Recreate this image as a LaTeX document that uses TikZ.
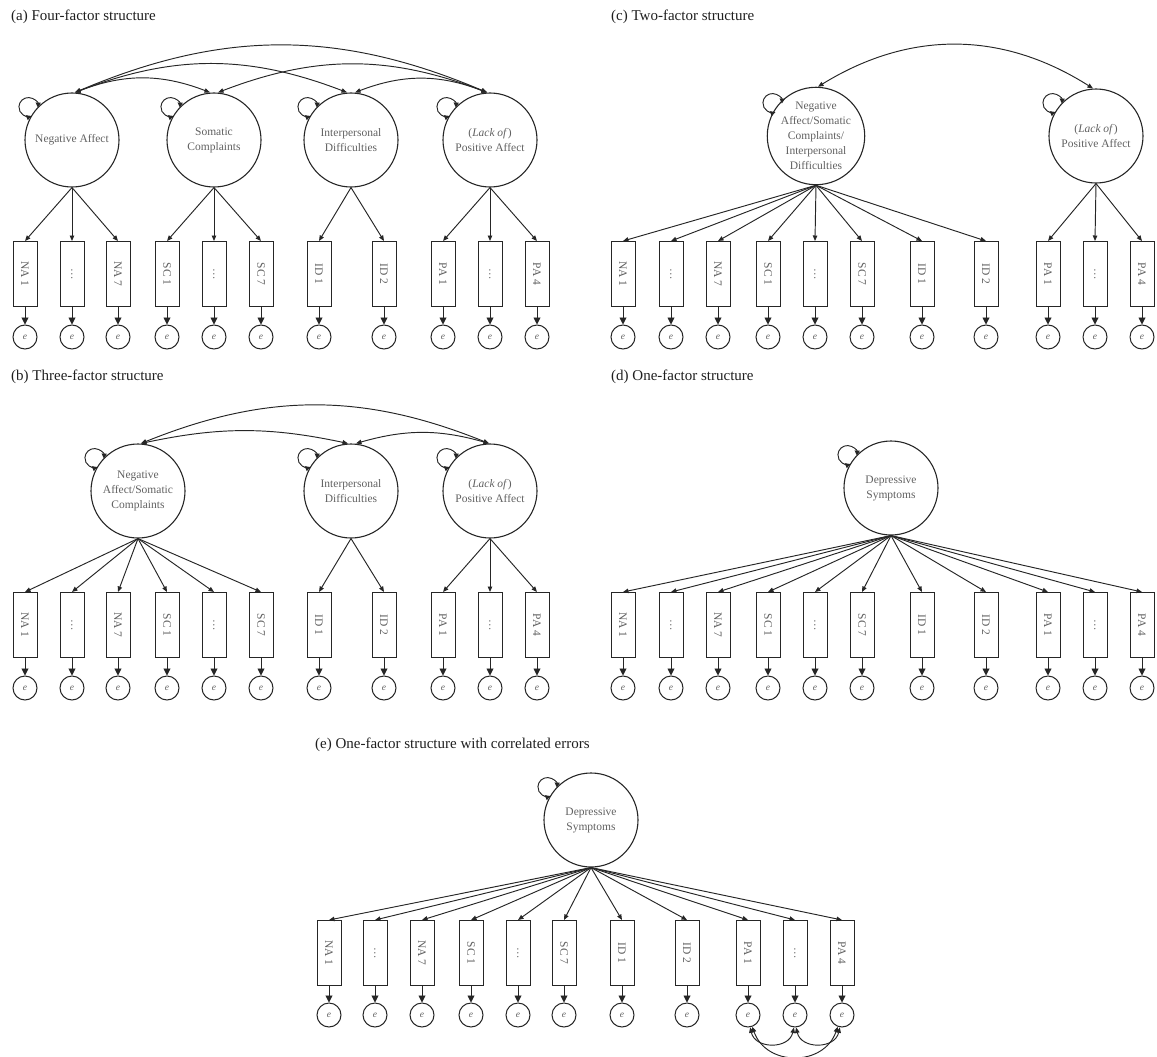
\documentclass[tikz,border=0pt]{standalone}
\usepackage{fontspec}
\setmainfont{Liberation Serif}
\usepackage{graphicx}
\usetikzlibrary{arrows.meta}
\tikzset{
  fac/.style={circle, draw=black!85, line width=1.1pt, minimum size=94pt, inner sep=0pt, align=center, text=black!62, font=\fontsize{11.5}{15}\selectfont},
  obs/.style={rectangle, draw=black!85, line width=1pt, minimum width=24pt, minimum height=65pt, inner sep=0pt, text=black!62, font=\fontsize{11.5}{13}\selectfont},
  err/.style={circle, draw=black!85, line width=1pt, minimum size=24pt, inner sep=0pt, text=black!62, font=\fontsize{9.5}{10}\selectfont\itshape},
  ttl/.style={anchor=west, inner sep=0pt, text=black!88, font=\fontsize{15}{17}\selectfont},
  load/.style={draw=black!85, line width=0.95pt, -{Triangle[length=5.5pt,width=4.5pt]}},
  res/.style={draw=black!85, line width=0.95pt, -{Triangle[length=7pt,width=7pt]}},
  cov/.style={draw=black!85, line width=0.95pt, {Triangle[length=5.5pt,width=4.5pt]}-{Triangle[length=5.5pt,width=4.5pt]}},
  vloop/.style={draw=black!85, line width=0.95pt, {Triangle[length=5pt,width=5pt]}-{Triangle[length=5pt,width=5pt]}},
}
\newcommand\vl[1]{\draw[vloop] ([xshift=-34.1pt,yshift=32.4pt]#1.center) arc[start angle=-3.2, end angle=289.2, radius=9.5pt];}
\newcommand\mkrow[4]{%
  \foreach \x/\lab [count=\i] in {#4} {
    \node[obs] (#1\i) at (\x,#2) {\rotatebox{-90}{\lab}};
    \node[err] (#1e\i) at (\x,#3) {e};
    \draw[res] (#1\i) -- (#1e\i);
  }}
\begin{document}
\begin{tikzpicture}[x=1pt,y=1pt]
\useasboundingbox (0,0) rectangle (1157,-1057);

% ---------------- (a) ----------------
\node[ttl] (ta) at (11,-17) {(a) Four-factor structure};
\node[fac] (aF1) at (72,-140) {Negative Affect};
\node[fac] (aF2) at (214,-140) {Somatic\\Complaints};
\node[fac] (aF3) at (351,-140) {Interpersonal\\Difficulties};
\node[fac] (aF4) at (490,-140) {(\textit{Lack of})\\Positive Affect};
\mkrow{a}{-274}{-337}{25/NA 1,72/…,118/NA 7,167/SC 1,214/…,261/SC 7,319/ID 1,384/ID 2,443/PA 1,490/…,537/PA 4}
\foreach \i in {1,2,3} \draw[load] (aF1.south) -- (a\i.north);
\foreach \i in {4,5,6} \draw[load] (aF2.south) -- (a\i.north);
\foreach \i in {7,8} \draw[load] (aF3.south) -- (a\i.north);
\foreach \i in {9,10,11} \draw[load] (aF4.south) -- (a\i.north);
\foreach \f in {1,2,3,4} {\vl{aF\f}}
\draw[cov] ([xshift=3pt]aF1.north) to[bend left=23] ([xshift=-3pt]aF4.north);
\draw[cov] ([xshift=3pt]aF1.north) to[bend left=21] ([xshift=-4pt]aF3.north);
\draw[cov] ([xshift=4pt]aF2.north) to[bend left=21] ([xshift=-3pt]aF4.north);
\draw[cov] ([xshift=3pt]aF1.north) to[bend left=21] ([xshift=-4pt]aF2.north);
\draw[cov] ([xshift=4pt]aF3.north) to[bend left=21] ([xshift=-3pt]aF4.north);

% ---------------- (c) ----------------
\node[ttl] (tc) at (611,-17) {(c) Two-factor structure};
\node[fac] (cF1) at (816,-136) {Negative\\Affect/Somatic\\Complaints/\\Interpersonal\\Difficulties};
\node[fac] (cF2) at (1096,-136) {(\textit{Lack of})\\Positive Affect};
\mkrow{c}{-274}{-337}{623/NA 1,671/…,718/NA 7,768/SC 1,815/…,862/SC 7,922/ID 1,986/ID 2,1048/PA 1,1095/…,1142/PA 4}
\foreach \i in {1,...,8} \draw[load] (cF1.south) -- (c\i.north);
\foreach \i in {9,10,11} \draw[load] (cF2.south) -- (c\i.north);
\vl{cF1}\vl{cF2}
\draw[cov] ([xshift=2pt]cF1.north) to[bend left=32] ([xshift=-3pt]cF2.north);

% ---------------- (b) ----------------
\node[ttl] (tb) at (11,-377) {(b) Three-factor structure};
\node[fac] (bF1) at (138,-491) {Negative\\Affect/Somatic\\Complaints};
\node[fac] (bF2) at (351,-491) {Interpersonal\\Difficulties};
\node[fac] (bF3) at (490,-491) {(\textit{Lack of})\\Positive Affect};
\mkrow{b}{-625}{-688}{25/NA 1,72/…,118/NA 7,167/SC 1,214/…,261/SC 7,319/ID 1,384/ID 2,443/PA 1,490/…,537/PA 4}
\foreach \i in {1,...,6} \draw[load] (bF1.south) -- (b\i.north);
\foreach \i in {7,8} \draw[load] (bF2.south) -- (b\i.north);
\foreach \i in {9,10,11} \draw[load] (bF3.south) -- (b\i.north);
\foreach \f in {1,2,3} {\vl{bF\f}}
\draw[cov] ([xshift=3pt]bF1.north) to[bend left=22] ([xshift=-1pt]bF3.north);
\draw[cov] ([xshift=3pt]bF1.north) to[bend left=12] ([xshift=-3pt]bF2.north);
\draw[cov] ([xshift=5pt]bF2.north) to[bend left=16] ([xshift=-1pt]bF3.north);

% ---------------- (d) ----------------
\node[ttl] (td) at (611,-377) {(d) One-factor structure};
\node[fac] (dF) at (891,-488) {Depressive\\Symptoms};
\mkrow{d}{-625}{-688}{623/NA 1,671/…,718/NA 7,768/SC 1,815/…,862/SC 7,922/ID 1,986/ID 2,1048/PA 1,1095/…,1142/PA 4}
\foreach \i in {1,...,11} \draw[load] (dF.south) -- (d\i.north);
\vl{dF}

% ---------------- (e) ----------------
\node[ttl] (te) at (315,-745) {(e) One-factor structure with correlated errors};
\node[fac] (eF) at (591,-820) {Depressive\\Symptoms};
\mkrow{e}{-953}{-1015}{329/NA 1,375/…,422/NA 7,471/SC 1,518/…,564/SC 7,622/ID 1,687/ID 2,748/PA 1,795/…,842/PA 4}
\foreach \i in {1,...,11} \draw[load] (eF.south) -- (e\i.north);
\vl{eF}
\draw[cov] (ee9.-80) .. controls +(5,-22) and +(-5,-22) .. (ee10.-95);
\draw[cov] (ee10.-85) .. controls +(5,-22) and +(-5,-22) .. (ee11.-100);
\draw[cov] (ee9.-70) .. controls +(14,-40) and +(-14,-40) .. (ee11.-110);
\end{tikzpicture}
\end{document}
